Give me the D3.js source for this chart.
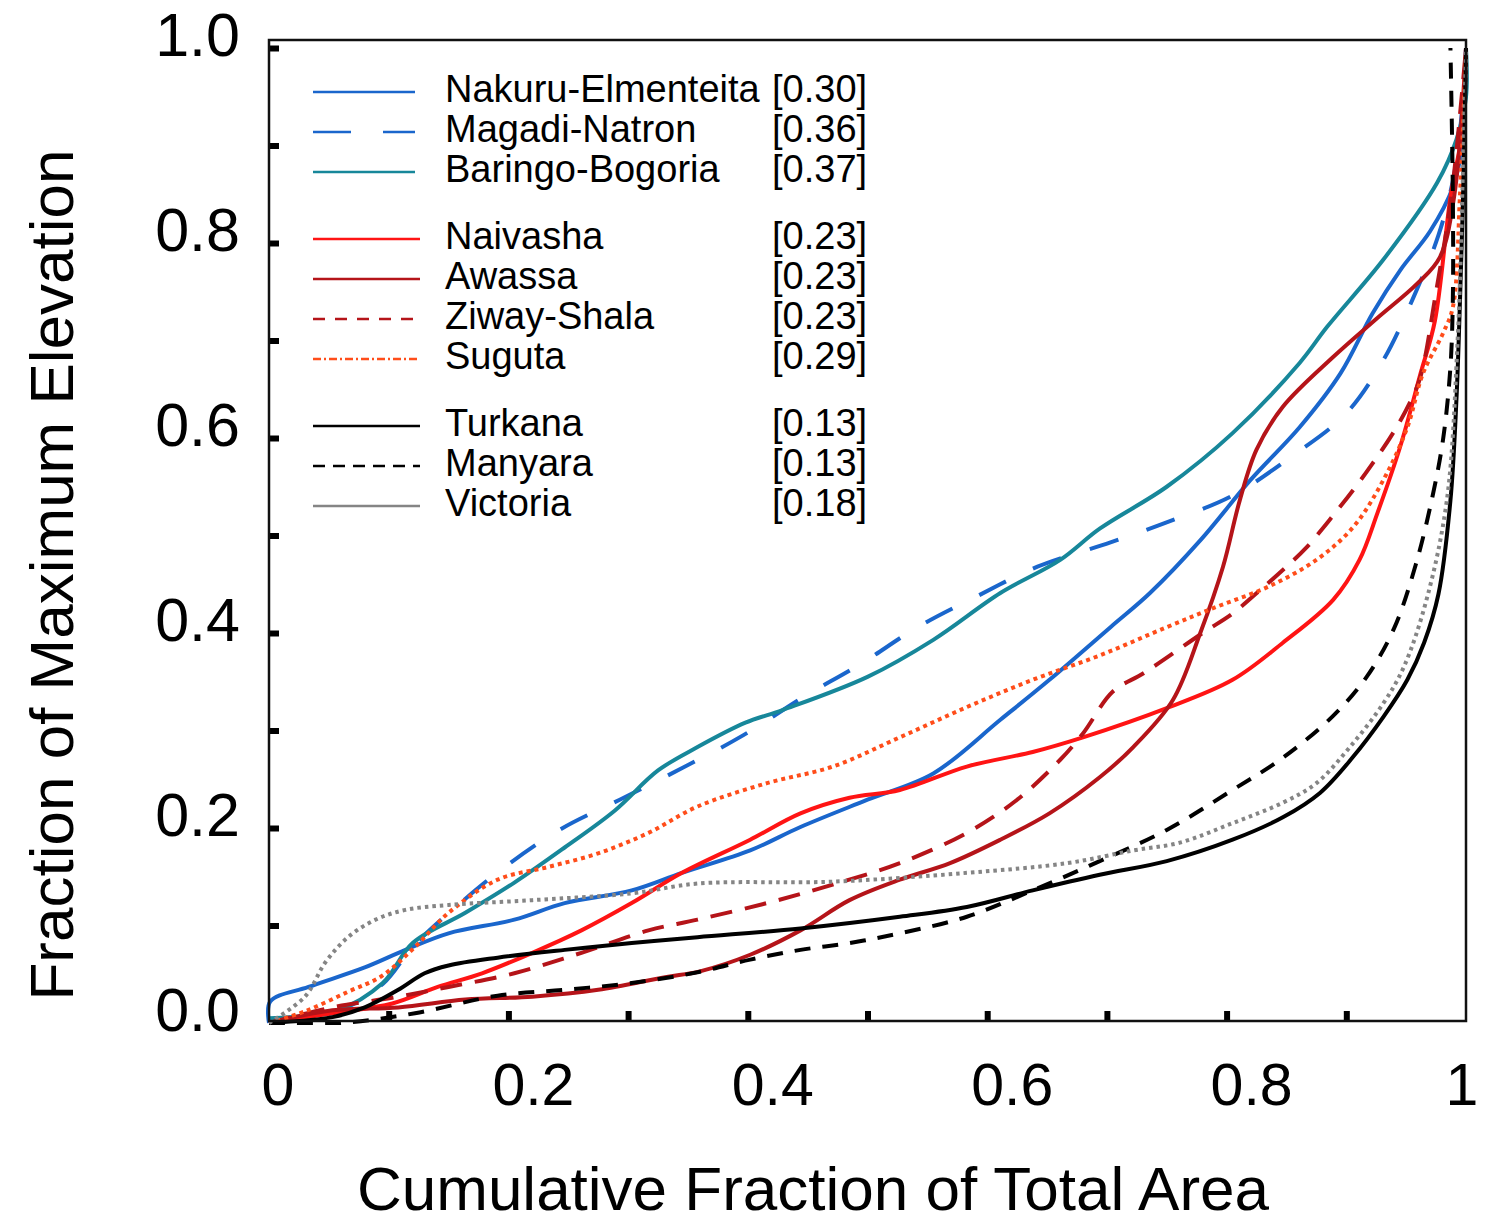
<!DOCTYPE html>
<html lang="en">
<head>
    <meta charset="UTF-8">
    <title>Hypsometric curves of rift lakes</title>
    <style>
        body {
            margin: 0;
            background: #fff;
            font-family: "Liberation Sans", Arial, sans-serif;
        }
        .frame {
            fill: none;
            stroke: #111;
            stroke-width: 2.5px;
        }
        .series {
            fill: none;
            stroke-width: 4px;
            stroke-linejoin: round;
        }
    </style>
</head>
<body>
    <div id="chart"></div>

    <script src="https://d3js.org/d3.v7.min.js"></script>
    <script>
        // curve points: [cumulative area fraction, elevation fraction]
        var nakuru = [[0,0],[0.001,0.022],[0.033,0.037],[0.08,0.057],[0.114,0.075],[0.15,0.092],[0.205,0.106],[0.247,0.123],[0.303,0.136],[0.345,0.154],[0.402,0.177],[0.444,0.201],[0.5,0.229],[0.555,0.256],[0.611,0.311],[0.652,0.352],[0.703,0.406],[0.736,0.441],[0.778,0.495],[0.82,0.557],[0.861,0.611],[0.895,0.666],[0.922,0.728],[0.945,0.772],[0.97,0.812],[0.989,0.857],[0.997,0.902],[1,1]];
        var magadi = [[0,0],[0.057,0.012],[0.095,0.04],[0.12,0.078],[0.158,0.121],[0.197,0.16],[0.244,0.199],[0.293,0.229],[0.346,0.262],[0.396,0.295],[0.446,0.334],[0.494,0.368],[0.542,0.406],[0.592,0.438],[0.642,0.468],[0.703,0.493],[0.751,0.514],[0.805,0.541],[0.853,0.58],[0.899,0.624],[0.931,0.68],[0.956,0.744],[0.977,0.808],[0.99,0.87],[0.997,0.94],[1,1]];
        var baringo = [[0,0.005],[0.057,0.013],[0.095,0.041],[0.12,0.082],[0.164,0.113],[0.205,0.144],[0.247,0.18],[0.289,0.218],[0.325,0.259],[0.358,0.283],[0.398,0.308],[0.429,0.321],[0.5,0.355],[0.555,0.393],[0.611,0.441],[0.661,0.475],[0.694,0.507],[0.75,0.55],[0.805,0.605],[0.861,0.677],[0.884,0.714],[0.931,0.783],[0.976,0.862],[0.992,0.906],[1,0.95],[1,1]];
        var naivasha = [[0,0],[0.053,0.01],[0.103,0.02],[0.141,0.037],[0.178,0.051],[0.22,0.072],[0.261,0.095],[0.303,0.123],[0.345,0.154],[0.402,0.188],[0.444,0.215],[0.485,0.231],[0.527,0.239],[0.583,0.263],[0.638,0.278],[0.68,0.293],[0.75,0.323],[0.805,0.352],[0.847,0.39],[0.889,0.434],[0.911,0.475],[0.926,0.523],[0.945,0.591],[0.962,0.666],[0.974,0.72],[0.987,0.847],[0.997,0.916],[1,1]];
        var awassa = [[0,0],[0.053,0.013],[0.108,0.016],[0.164,0.024],[0.22,0.027],[0.275,0.034],[0.331,0.047],[0.36,0.053],[0.402,0.07],[0.444,0.095],[0.485,0.126],[0.527,0.147],[0.569,0.164],[0.611,0.188],[0.652,0.215],[0.694,0.252],[0.722,0.283],[0.755,0.331],[0.778,0.4],[0.797,0.468],[0.811,0.536],[0.825,0.588],[0.847,0.632],[0.889,0.683],[0.925,0.722],[0.959,0.758],[0.978,0.785],[0.99,0.847],[1,1]];
        var ziway = [[0,0],[0.053,0.016],[0.108,0.027],[0.15,0.037],[0.205,0.051],[0.261,0.072],[0.317,0.095],[0.358,0.106],[0.416,0.123],[0.471,0.142],[0.527,0.164],[0.583,0.195],[0.625,0.229],[0.661,0.27],[0.68,0.297],[0.705,0.34],[0.731,0.359],[0.78,0.4],[0.805,0.42],[0.828,0.444],[0.85,0.468],[0.867,0.488],[0.886,0.516],[0.906,0.547],[0.922,0.574],[0.939,0.605],[0.953,0.636],[0.962,0.663],[0.975,0.75],[0.988,0.85],[1,1]];
        var suguta = [[0,0],[0.03,0.012],[0.066,0.032],[0.094,0.048],[0.122,0.078],[0.15,0.113],[0.191,0.147],[0.233,0.16],[0.275,0.174],[0.317,0.195],[0.358,0.222],[0.416,0.246],[0.471,0.263],[0.527,0.293],[0.583,0.324],[0.638,0.352],[0.694,0.377],[0.75,0.406],[0.792,0.427],[0.834,0.447],[0.875,0.475],[0.906,0.509],[0.931,0.557],[0.951,0.611],[0.964,0.666],[0.981,0.708],[0.989,0.734],[0.995,0.85],[1,1]];
        var turkana = [[0,0],[0.053,0.006],[0.08,0.016],[0.108,0.034],[0.13,0.051],[0.15,0.059],[0.191,0.067],[0.247,0.075],[0.303,0.082],[0.358,0.088],[0.444,0.097],[0.527,0.109],[0.583,0.119],[0.638,0.136],[0.694,0.152],[0.75,0.166],[0.805,0.188],[0.847,0.211],[0.878,0.236],[0.905,0.272],[0.931,0.314],[0.951,0.352],[0.965,0.39],[0.977,0.44],[0.987,0.536],[0.992,0.639],[0.995,0.742],[0.998,0.87],[1,1]];
        var manyara = [[0,0],[0.06,0],[0.122,0.01],[0.191,0.028],[0.247,0.034],[0.303,0.041],[0.358,0.052],[0.402,0.065],[0.444,0.075],[0.485,0.082],[0.527,0.092],[0.583,0.109],[0.638,0.136],[0.694,0.166],[0.75,0.198],[0.805,0.239],[0.847,0.272],[0.889,0.315],[0.917,0.355],[0.94,0.405],[0.958,0.47],[0.972,0.54],[0.981,0.6],[0.987,0.673],[0.989,0.742],[0.989,0.85],[0.987,1]];
        var victoria = [[0,0],[0.03,0.027],[0.047,0.062],[0.066,0.088],[0.089,0.106],[0.114,0.116],[0.15,0.121],[0.22,0.126],[0.303,0.133],[0.358,0.143],[0.471,0.145],[0.583,0.154],[0.667,0.164],[0.722,0.177],[0.761,0.185],[0.805,0.205],[0.847,0.226],[0.875,0.246],[0.903,0.283],[0.931,0.328],[0.948,0.365],[0.967,0.434],[0.984,0.536],[0.993,0.7],[0.997,0.85],[1,1]];

        var lakeNames = ["Nakuru-Elmenteita", "Magadi-Natron", "Baringo-Bogoria",
                         "Naivasha", "Awassa", "Ziway-Shala", "Suguta",
                         "Turkana", "Manyara", "Victoria"];
        var lakeValues = ["[0.30]", "[0.36]", "[0.37]",
                          "[0.23]", "[0.23]", "[0.23]", "[0.29]",
                          "[0.13]", "[0.13]", "[0.18]"];
        var lakeGroups = [0, 0, 0, 1, 1, 1, 1, 2, 2, 2];
        var xTicks = [0, 0.2, 0.4, 0.6, 0.8, 1];
        var yTicks = [0, 0.2, 0.4, 0.6, 0.8, 1.0];

        var series = [nakuru, magadi, baringo, naivasha, awassa, ziway, suguta, turkana, manyara, victoria];

        // drawing styles for each lake
        var styles = [
            {color: "#1a66cc", dash: null, legendDash: null},
            {color: "#1a66cc", dash: "30,30", legendDash: "38,32"},
            {color: "#17879a", dash: null, legendDash: null},
            {color: "#ff1414", dash: null, legendDash: null},
            {color: "#b51419", dash: null, legendDash: null},
            {color: "#b51419", dash: "22,13", legendDash: "12,10"},
            {color: "#ff4d1a", dash: "4,4", legendDash: "8,3,2,3"},
            {color: "#000000", dash: null, legendDash: null},
            {color: "#000000", dash: "16,12", legendDash: "12,8"},
            {color: "#858585", dash: "3.5,4", legendDash: null}
        ];

        var width = 1489,
            height = 1223;

        var plotLeft = 269, plotRight = 1466, plotTop = 40, plotBottom = 1021;

        var svg = d3.select("#chart").append("svg")
            .attr("width", width)
            .attr("height", height);

        var x = d3.scaleLinear().domain([0, 1]).range([plotLeft, plotRight]);
        var y = d3.scaleLinear().domain([0, 1]).range([1023, 48]);

        // minor tick marks, short and heavy, pointing inwards
        svg.append("g")
            .attr("transform", "translate(0," + plotBottom + ")")
            .call(d3.axisBottom(x).tickValues(d3.range(1, 10).map(function(i) { return i / 10; }))
                .tickSize(-10).tickFormat(""))
            .call(function(g) {
                g.select(".domain").remove();
                g.selectAll(".tick line").attr("stroke", "#000").attr("stroke-width", 6);
            });

        svg.append("g")
            .attr("transform", "translate(" + plotLeft + ",0)")
            .call(d3.axisLeft(y).tickValues(d3.range(1, 11).map(function(i) { return i / 10; }))
                .tickSize(-10).tickFormat(""))
            .call(function(g) {
                g.select(".domain").remove();
                g.selectAll(".tick line").attr("stroke", "#000").attr("stroke-width", 6);
            });

        // tick labels
        svg.append("g").selectAll("text")
            .data(yTicks)
            .enter().append("text")
            .attr("x", 240)
            .attr("y", function(d) { return y(d) + 8; })
            .attr("text-anchor", "end")
            .attr("font-size", 61)
            .text(function(d) { return d3.format(".1f")(d); });

        svg.append("g").selectAll("text")
            .data(xTicks)
            .enter().append("text")
            .attr("x", function(d) { return x(d) + (d === 0 ? 9 : d === 1 ? -4 : 25); })
            .attr("y", 1105)
            .attr("text-anchor", "middle")
            .attr("font-size", 59)
            .text(function(d) { return (d === 0 || d === 1) ? d : d3.format(".1f")(d); });

        // axis titles
        svg.append("text")
            .attr("x", 813)
            .attr("y", 1210)
            .attr("text-anchor", "middle")
            .attr("font-size", 61)
            .attr("textLength", 912)
            .attr("lengthAdjust", "spacingAndGlyphs")
            .text("Cumulative Fraction of Total Area");

        svg.append("text")
            .attr("transform", "translate(73,575) rotate(-90)")
            .attr("text-anchor", "middle")
            .attr("font-size", 62)
            .text("Fraction of Maximum Elevation");

        // curves
        var line = d3.line()
            .x(function(d) { return x(d[0]); })
            .y(function(d) { return y(d[1]); })
            .curve(d3.curveCatmullRom.alpha(0.5));

        svg.append("clipPath").attr("id", "clip")
            .append("rect")
            .attr("x", plotLeft - 3).attr("y", plotTop)
            .attr("width", plotRight - plotLeft + 6).attr("height", plotBottom - plotTop + 4);

        svg.append("g")
            .attr("clip-path", "url(#clip)")
            .selectAll("path")
            .data(series)
            .enter().append("path")
            .attr("class", "series")
            .attr("d", line)
            .attr("stroke", function(d, i) { return styles[i].color; })
            .attr("stroke-dasharray", function(d, i) { return styles[i].dash; });

        // frame
        svg.append("rect")
            .attr("class", "frame")
            .attr("x", plotLeft)
            .attr("y", plotTop)
            .attr("width", plotRight - plotLeft)
            .attr("height", plotBottom - plotTop);

        // legend
        var rowY = lakeNames.map(function(n, i) { return 92 + i * 40 + lakeGroups[i] * 27; });

        var legend = svg.append("g").selectAll("g")
            .data(lakeNames)
            .enter().append("g")
            .attr("transform", function(d, i) { return "translate(0," + rowY[i] + ")"; });

        legend.append("line")
            .attr("x1", 313)
            .attr("x2", function(d, i) { return i < 3 ? 415 : 420; })
            .attr("stroke", function(d, i) { return styles[i].color; })
            .attr("stroke-width", 2.5)
            .attr("stroke-dasharray", function(d, i) { return styles[i].legendDash; });

        legend.append("text")
            .attr("x", 445)
            .attr("y", 10)
            .attr("font-size", 38)
            .text(function(d) { return d; });

        legend.append("text")
            .attr("x", 772)
            .attr("y", 10)
            .attr("font-size", 38)
            .text(function(d, i) { return lakeValues[i]; });
    </script>
</body>
</html>
